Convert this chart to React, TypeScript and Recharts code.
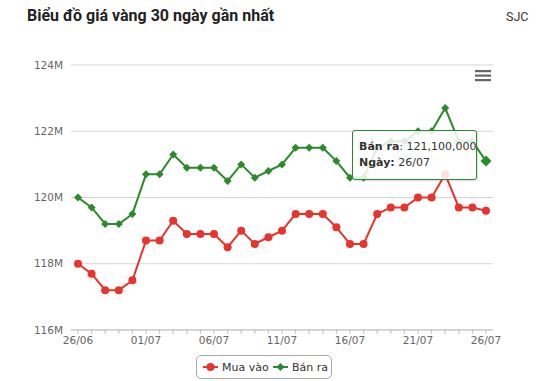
import { LineChart, Line, XAxis, YAxis, CartesianGrid, Tooltip } from "recharts";

const dates = [
  "26/06", "27/06", "28/06", "29/06", "30/06",
  "01/07", "02/07", "03/07", "04/07", "05/07", "06/07", "07/07", "08/07", "09/07", "10/07",
  "11/07", "12/07", "13/07", "14/07", "15/07", "16/07", "17/07", "18/07", "19/07", "20/07",
  "21/07", "22/07", "23/07", "24/07", "25/07", "26/07",
];

// triệu đồng / lượng
const buyPrices = [
  118.0, 117.7, 117.2, 117.2, 117.5,
  118.7, 118.7, 119.3, 118.9, 118.9, 118.9, 118.5, 119.0, 118.6, 118.8,
  119.0, 119.5, 119.5, 119.5, 119.1, 118.6, 118.6, 119.5, 119.7, 119.7,
  120.0, 120.0, 120.7, 119.7, 119.7, 119.6,
];

const sellPrices = [
  120.0, 119.7, 119.2, 119.2, 119.5,
  120.7, 120.7, 121.3, 120.9, 120.9, 120.9, 120.5, 121.0, 120.6, 120.8,
  121.0, 121.5, 121.5, 121.5, 121.1, 120.6, 120.6, 121.5, 121.7, 121.7,
  122.0, 122.0, 122.7, 121.7, 121.7, 121.1,
];

const yTicks = [116, 118, 120, 122, 124];

const RED = "#e8342c";
const GREEN = "#2b8a2b";
const AXIS_FONT = "'DejaVu Sans', sans-serif";

const data = dates.map((d, i) => ({
  date: d,
  buy: Math.round(buyPrices[i] * 1e6),
  sell: Math.round(sellPrices[i] * 1e6),
}));

const Diamond = (props: any) => {
  const { cx, cy, r = 4, fill } = props;
  if (cx == null || cy == null) return <g key={props.index} />;
  return (
    <path
      key={props.index}
      d={`M${cx},${cy - r}L${cx + r},${cy}L${cx},${cy + r}L${cx - r},${cy}Z`}
      fill={fill}
    />
  );
};

const XTick = (props: any) => {
  const { x, y, payload } = props;
  const idx = props.index ?? payload.index;
  if (idx % 5 !== 0) return <g />;
  return (
    <text x={x} y={y} dy={10} textAnchor="middle" fill="#666" fontSize={10.5} fontFamily={AXIS_FONT}>
      {payload.value}
    </text>
  );
};

const TipBox = ({ active, payload, label }: any) => {
  if (!active || !payload || !payload.length) return null;
  const sell = payload.find((p: any) => p.dataKey === "sell") || payload[0];
  return (
    <div
      style={{
        background: "rgba(255,255,255,0.85)",
        border: `1px solid ${GREEN}`,
        borderRadius: 3,
        padding: "8px 6px 8px 6px",
        fontFamily: AXIS_FONT,
        fontSize: 11,
        color: "#333",
        lineHeight: "16px",
        width: 111,
        whiteSpace: "nowrap",
        boxShadow: "1px 1px 2px rgba(0,0,0,0.15)",
      }}
    >
      <div>
        <b>Bán ra</b>: {sell.value.toLocaleString("en-US")}
      </div>
      <div>
        <b>Ngày:</b> {label}
      </div>
    </div>
  );
};

export default function App() {
  return (
    <div style={{ position: "absolute", left: 0, top: 0, width: 559, height: 381, background: "#fff" }}>
      <LineChart width={559} height={381} data={data} margin={{ top: 65, right: 66, left: 0, bottom: 0 }}>
        <CartesianGrid vertical={false} stroke="#d6d6d6" />
        <XAxis
          dataKey="date"
          interval={0}
          height={51}
          padding={{ left: 7, right: 7 }}
          tick={XTick}
          tickSize={4}
          tickMargin={0}
          stroke="#c0c0c0"
        />
        <YAxis
          width={71}
          domain={[116e6, 124e6]}
          ticks={yTicks.map((t) => t * 1e6)}
          tickFormatter={(v: number) => `${v / 1e6}M`}
          axisLine={false}
          tickLine={false}
          tick={{ fill: "#666", fontSize: 10.5, fontFamily: AXIS_FONT }}
        />
        <Tooltip
          content={TipBox}
          cursor={false}
          defaultIndex={30}
          active={true}
          position={{ x: 352, y: 130 }}
          isAnimationActive={false}
          wrapperStyle={{ outline: "none" }}
        />
        <Line
          type="linear"
          dataKey="buy"
          name="Mua vào"
          stroke={RED}
          strokeWidth={2}
          dot={{ r: 4, fill: RED, stroke: RED, strokeWidth: 0 }}
          activeDot={false}
          isAnimationActive={false}
        />
        <Line
          type="linear"
          dataKey="sell"
          name="Bán ra"
          stroke={GREEN}
          strokeWidth={2}
          dot={(p: any) => <Diamond key={p.index} {...p} r={4} fill={GREEN} />}
          activeDot={(p: any) => <Diamond key="active" {...p} r={5.5} fill={GREEN} />}
          isAnimationActive={false}
        />
      </LineChart>

      <div
        style={{
          position: "absolute",
          left: 27,
          top: 6,
          fontFamily: "Roboto, sans-serif",
          fontWeight: 700,
          fontSize: 16,
          color: "#222",
        }}
      >
        Biểu đồ giá vàng 30 ngày gần nhất
      </div>
      <div
        style={{
          position: "absolute",
          left: 506,
          top: 9,
          fontFamily: "Roboto, sans-serif",
          fontSize: 12.5,
          color: "#333",
        }}
      >
        SJC
      </div>

      <svg style={{ position: "absolute", left: 474, top: 69 }} width={18} height={14}>
        <rect x={1} y={1} width={16} height={2.2} fill="#666" />
        <rect x={1} y={5.5} width={16} height={2.2} fill="#666" />
        <rect x={1} y={10} width={16} height={2.2} fill="#666" />
      </svg>

      <div
        style={{
          position: "absolute",
          left: 196,
          top: 355,
          width: 136,
          height: 24,
          border: "1px solid #a8a8a8",
          borderRadius: 5,
          boxSizing: "border-box",
        }}
      >
        <svg width={136} height={24} style={{ position: "absolute", left: -1, top: -1 }}>
          <line x1={7} y1={12} x2={22} y2={12} stroke={RED} strokeWidth={2} />
          <circle cx={14.5} cy={12} r={4} fill={RED} />
          <text x={26} y={16} fontSize={11} fontFamily={AXIS_FONT} fill="#333">
            Mua vào
          </text>
          <line x1={77} y1={12} x2={92} y2={12} stroke={GREEN} strokeWidth={2} />
          <path d="M84.5,8L88.5,12L84.5,16L80.5,12Z" fill={GREEN} />
          <text x={96} y={16} fontSize={11} fontFamily={AXIS_FONT} fill="#333">
            Bán ra
          </text>
        </svg>
      </div>
    </div>
  );
}
